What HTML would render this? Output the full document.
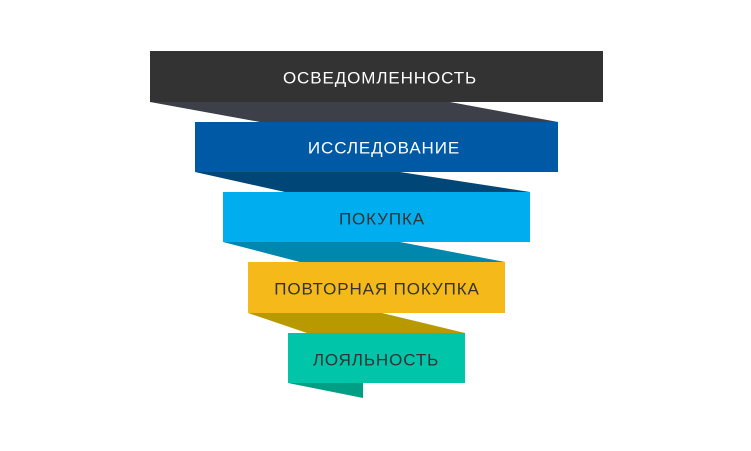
<!DOCTYPE html>
<html><head><meta charset="utf-8"><style>
body{margin:0;background:#fff;}
svg{display:block}
text{font-family:"Liberation Sans",sans-serif;font-size:17px;text-anchor:middle;dominant-baseline:central;letter-spacing:0.9px}
</style></head><body>
<svg width="751" height="451" viewBox="0 0 751 451">
<polygon points="150,102 450,102 558,122 260,122" fill="#3d4048"/>
<polygon points="195,172 400,172 530,192 285,192" fill="#004677"/>
<polygon points="223,242 400,242 505,262 300,262" fill="#0087ad"/>
<polygon points="248,313 382,313 465,333 307,333" fill="#b89a00"/>
<polygon points="288,383 363,383 363,398" fill="#009e84"/>
<rect x="150" y="51" width="453" height="51" fill="#333333"/>
<rect x="195" y="122" width="363" height="50" fill="#0059a5"/>
<rect x="223" y="192" width="307" height="50" fill="#00aeef"/>
<rect x="248" y="262" width="257" height="51" fill="#f5b919"/>
<rect x="288" y="333" width="177" height="50" fill="#00c5a8"/>
<text x="380" y="78" fill="#fff">ОСВЕДОМЛЕННОСТЬ</text>
<text x="384" y="148" fill="#fff">ИССЛЕДОВАНИЕ</text>
<text x="382" y="219" fill="#333">ПОКУПКА</text>
<text x="377" y="289" fill="#333">ПОВТОРНАЯ ПОКУПКА</text>
<text x="376" y="360" fill="#333">ЛОЯЛЬНОСТЬ</text>
</svg>
</body></html>
